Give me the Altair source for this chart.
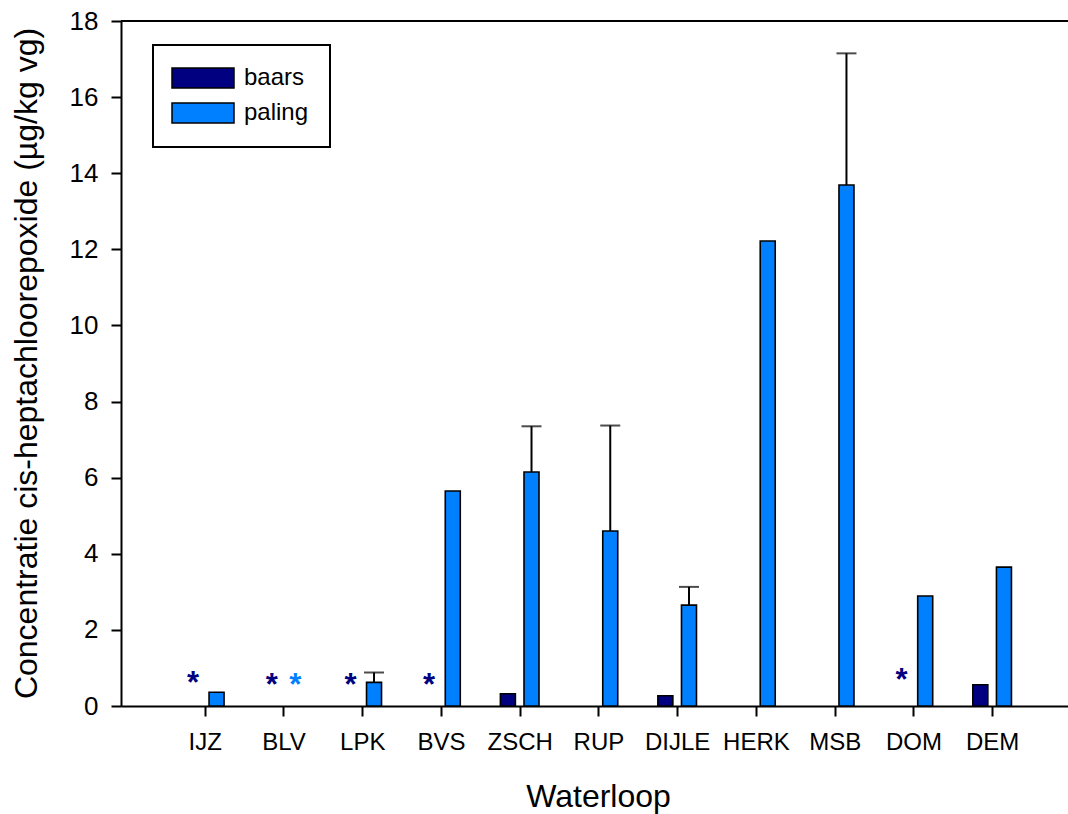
import altair as alt
import pandas as pd

# Sampling sites (Waterloop) and mean concentrations per species
sites = ["IJZ", "BLV", "LPK", "BVS", "ZSCH", "RUP", "DIJLE", "HERK", "MSB", "DOM", "DEM"]
baars = [None, None, None, None, 0.32, None, 0.27, None, None, None, 0.56]
paling = [0.36, None, 0.62, 5.65, 6.15, 4.6, 2.65, 12.22, 13.69, 2.89, 3.65]
paling_sd = [None, None, 0.26, None, 1.2, 2.77, 0.48, None, 3.46, None, None]

# Sites where a species was below the detection limit (marked with *)
star_site = ["IJZ", "BLV", "BLV", "LPK", "BVS", "DOM"]
star_soort = ["baars", "baars", "paling", "baars", "baars", "baars"]
star_level = [0.80, 0.74, 0.74, 0.74, 0.74, 0.86]

species = ["baars", "paling"]
colors = ["#000080", "#0080FF"]
FONT = "Liberation Sans"

rows = []
for i, s in enumerate(sites):
    for soort, vals in (("baars", baars), ("paling", paling)):
        v = vals[i]
        if v is not None:
            sd = paling_sd[i] if soort == "paling" else None
            rows.append({"site": s, "idx": i + 1, "soort": soort, "waarde": v,
                         "boven": (v + sd) if sd else None})
bars_df = pd.DataFrame(rows)

stars_df = pd.DataFrame({
    "site": star_site,
    "idx": [sites.index(s) + 1 for s in star_site],
    "soort": star_soort,
    "niveau": star_level,
})

offset_expr = "datum.idx + (datum.soort == 'baars' ? -0.15 : 0.15)"
label_expr = "[" + ",".join(f"'{s}'" for s in sites) + "][datum.value - 1]"

x_scale = alt.Scale(domain=[0, 11.9], nice=False, zero=False)
y_scale = alt.Scale(domain=[0, 18], nice=False)

x_axis = alt.Axis(
    values=list(range(1, 12)), labelExpr=label_expr, title="Waterloop",
    grid=False, tickSize=10, tickWidth=2, tickColor="black",
    domainColor="black", domainWidth=2, labelFontSize=24, labelFont=FONT,
    labelColor="black", labelPadding=14, titleFontSize=32, titleFont=FONT,
    titleFontWeight="normal", titleColor="black", titleX=477, titleY=100,
    titleBaseline="alphabetic", titleAnchor="start", titleAlign="center",
)
y_axis = alt.Axis(
    values=list(range(0, 19, 2)), title="Concentratie cis-heptachloorepoxide (µg/kg vg)",
    grid=False, tickSize=10, tickWidth=2, tickColor="black",
    domainColor="black", domainWidth=2, labelFontSize=26, labelFont=FONT,
    labelColor="black", labelPadding=13, titleFontSize=32, titleFont=FONT,
    titleFontWeight="normal", titleColor="black", titleX=-85, titleY=342,
    titleBaseline="alphabetic", titleAlign="center", titleAngle=-90,
)

base = alt.Chart(bars_df).transform_calculate(xpos=offset_expr)

bars = base.mark_bar(size=15, stroke="black", strokeWidth=1.6).encode(
    x=alt.X("xpos:Q", scale=x_scale, axis=x_axis),
    y=alt.Y("waarde:Q", scale=y_scale, axis=y_axis),
    color=alt.Color(
        "soort:N",
        scale=alt.Scale(domain=species, range=colors),
        legend=alt.Legend(
            title=None, orient="none", legendX=32, legendY=24,
            symbolType="M-3.1,-1H3.1V1H-3.1Z", symbolSize=400,
            symbolOffset=17, labelOffset=29, symbolStrokeColor="black",
            symbolStrokeWidth=1.5, symbolOpacity=1, labelFontSize=24,
            labelFont=FONT, labelColor="black", rowPadding=9,
            padding=21, strokeColor="black", fillColor="white",
        ),
    ),
)

err = base.transform_filter("datum.boven != null")
err_line = err.mark_rule(color="black", strokeWidth=2).encode(
    x=alt.X("xpos:Q", scale=x_scale),
    y=alt.Y("waarde:Q", scale=y_scale),
    y2="boven:Q",
)
err_cap = err.mark_tick(color="black", orient="horizontal", size=20, thickness=2).encode(
    x=alt.X("xpos:Q", scale=x_scale),
    y=alt.Y("boven:Q", scale=y_scale),
)

star_base = alt.Chart(stars_df).transform_calculate(xpos=offset_expr)
star_layers = [
    star_base.transform_filter(f"datum.soort == '{sp}'").mark_text(
        text="*", fontSize=31, font=FONT, fontWeight="bold", color=col,
        baseline="alphabetic", align="center", dy=17,
    ).encode(
        x=alt.X("xpos:Q", scale=x_scale),
        y=alt.Y("niveau:Q", scale=y_scale),
    )
    for sp, col in zip(species, colors)
]

top_line = alt.Chart(pd.DataFrame({"y": [18]})).mark_rule(
    color="black", strokeWidth=2
).encode(y=alt.Y("y:Q", scale=y_scale))

chart = alt.layer(bars, err_line, err_cap, *star_layers, top_line).properties(
    width=947,
    height=685,
    autosize=alt.AutoSizeParams(type="none"),
    padding={"left": 121, "top": 21, "right": 0, "bottom": 108},
    background="white",
).configure_view(stroke=None).configure_legend(strokeWidth=2)

chart.save("out.html", embed_options={"renderer": "svg", "actions": False})
